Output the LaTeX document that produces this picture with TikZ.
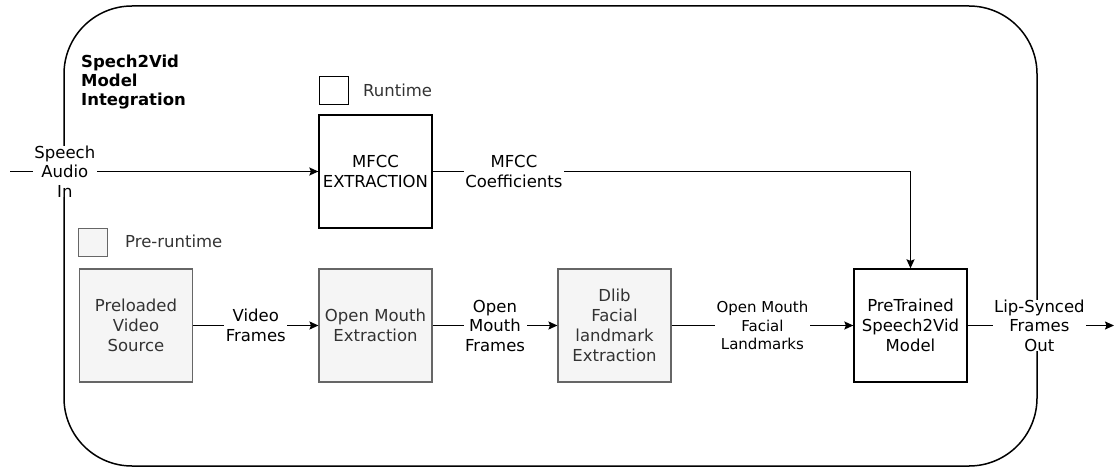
\documentclass[tikz,border=0pt]{standalone}
\usepackage{fontspec}
\setmainfont{DejaVu Sans}
\usetikzlibrary{arrows.meta}
\definecolor{gborder}{HTML}{666666}
\definecolor{gfill}{HTML}{F5F5F5}
\definecolor{gtext}{HTML}{333333}
\begin{document}
\begin{tikzpicture}[x=1pt,y=-1pt,
  blk/.style={draw=black, fill=white, line width=1.3pt, minimum width=113pt, minimum height=113pt,
    inner sep=0pt, align=center, font=\fontsize{16.5}{20}\selectfont},
  gry/.style={blk, draw=gborder, fill=gfill, text=gtext, line width=1.1pt},
  lbl/.style={fill=white, align=center, inner xsep=1.5pt, inner ysep=0pt,
    font=\fontsize{16.5}{19.5}\selectfont},
  smalllbl/.style={lbl, font=\fontsize{15}{18.5}\selectfont},
  arr/.style={-{Stealth[length=9pt,width=8pt,inset=1.5pt]}, line width=1.5pt},
  legendbox/.style={minimum width=29pt, minimum height=28pt, inner sep=0pt, anchor=north west},
  legendtext/.style={anchor=west, inner sep=0pt, font=\fontsize{16.5}{19}\selectfont, text=gtext}]
\useasboundingbox (0,0) rectangle (1115,468);
% outer container
\draw[line width=1.5pt, rounded corners=68pt] (64,6) rectangle (1037,466);
\node[anchor=north west, align=left, inner sep=0pt, font=\bfseries\fontsize{16.5}{19}\selectfont] (title) at (81,55) {Spech2Vid\\Model\\Integration};
% legend
\node[legendbox, draw=black, fill=white, line width=1.1pt] (rtbox) at (319,76) {};
\node[legendtext] (rttext) at (363,90) {Runtime};
\node[legendbox, draw=gborder, fill=gfill, line width=1.1pt] (prbox) at (78,228) {};
\node[legendtext] (prtext) at (125,241) {Pre-runtime};
% boxes
\node[blk] (mfcc) at (375.5,171.5) {MFCC\\EXTRACTION};
\node[gry] (pre) at (136,325.5) {Preloaded\\Video\\Source};
\node[gry] (ome) at (375.5,325.5) {Open Mouth\\Extraction};
\node[gry] (dlib) at (614.5,325.5) {Dlib\\Facial\\landmark\\Extraction};
\node[blk] (pt) at (910.5,325.5) {PreTrained\\Speech2Vid\\Model};
\coordinate (in) at (10,171.5);
\coordinate (out) at (1114,325.5);
% connectors
\draw[arr] (in) -- node[lbl, pos=0.178] {Speech\\Audio\\In} (mfcc.west);
\draw[arr] (mfcc.east) -| node[lbl, pos=0.085] {MFCC\\Coefficients} (pt.north);
\draw[arr] (pre) -- node[lbl] {Video\\Frames} (ome);
\draw[arr] (ome) -- node[lbl] {Open\\Mouth\\Frames} (dlib);
\draw[arr] (dlib) -- node[smalllbl] {Open Mouth\\Facial\\Landmarks} (pt);
\draw[arr] (pt) -- node[lbl, pos=0.49] {Lip-Synced\\Frames\\Out} (out);
\end{tikzpicture}
\end{document}
